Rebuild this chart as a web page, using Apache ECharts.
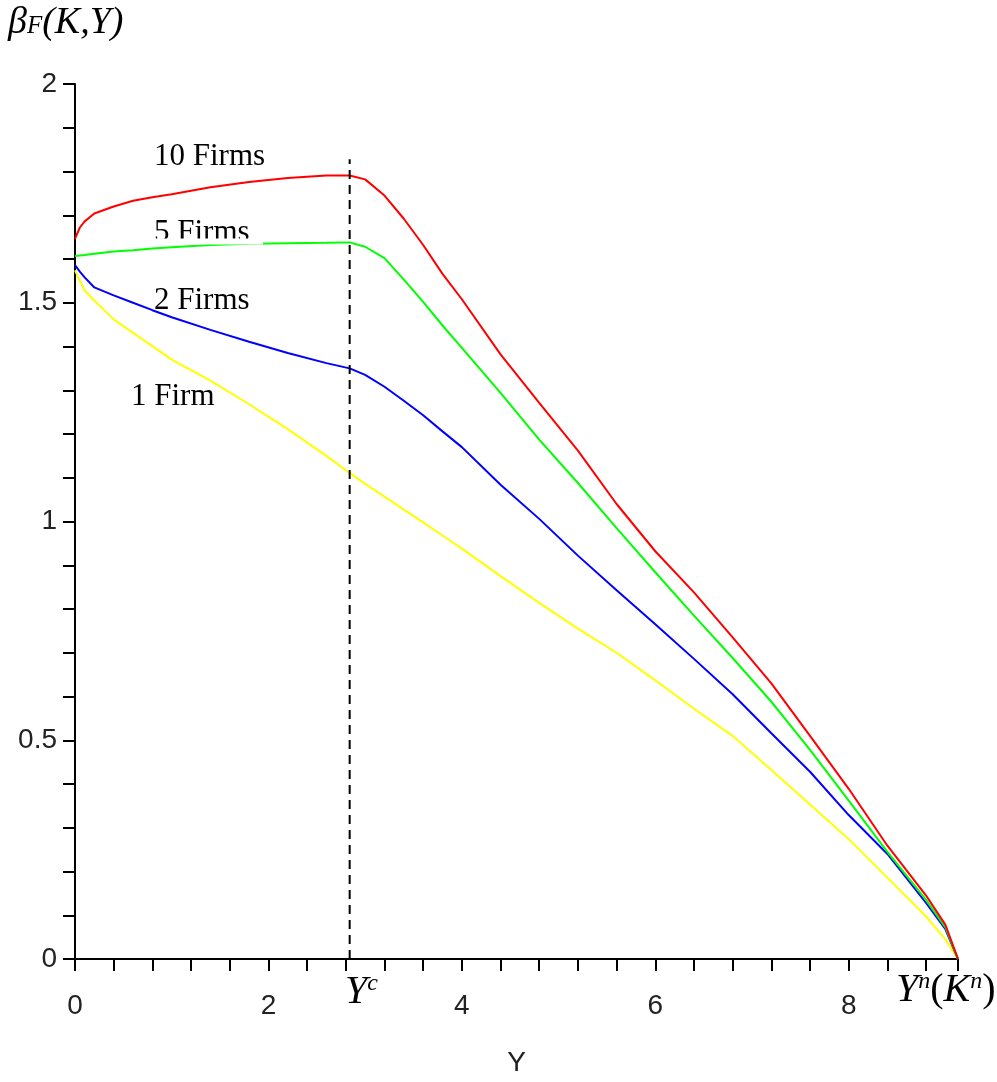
<!DOCTYPE html>
<html>
<head>
<meta charset="utf-8">
<script src="https://cdn.jsdelivr.net/npm/echarts@6/dist/echarts.min.js"></script>
<style>
  html, body { margin: 0; padding: 0; background: #fff; }
  #chartBox { width: 997px; height: 1082px; }
</style>
</head>
<body>
<div id="chartBox"></div>
<script>
// x grid (Y) shared by the four curves
var xs = [0, 0.05, 0.1, 0.2, 0.4, 0.6, 0.8, 1.0, 1.4, 1.8, 2.2, 2.6, 2.84, 3.0, 3.2, 3.4, 3.6, 3.8, 4.0,
          4.4, 4.8, 5.2, 5.6, 6.0, 6.4, 6.8, 7.2, 7.6, 8.0, 8.4, 8.8, 9.0, 9.13];

var firm1 = [1.574, 1.550, 1.528, 1.505, 1.462, 1.431, 1.401, 1.370, 1.322, 1.268, 1.211, 1.150, 1.111, 1.086, 1.057, 1.027, 0.998, 0.968, 0.938,
             0.875, 0.814, 0.755, 0.700, 0.637, 0.572, 0.510, 0.432, 0.353, 0.274, 0.186, 0.097, 0.045, 0];
var firm2 = [1.586, 1.571, 1.558, 1.535, 1.517, 1.500, 1.483, 1.467, 1.438, 1.411, 1.385, 1.362, 1.350, 1.335, 1.308, 1.276, 1.243, 1.206, 1.170,
             1.084, 1.006, 0.922, 0.843, 0.765, 0.686, 0.605, 0.516, 0.428, 0.329, 0.240, 0.128, 0.068, 0];
var firm5 = [1.607, 1.608, 1.609, 1.612, 1.617, 1.620, 1.624, 1.627, 1.632, 1.635, 1.636, 1.637, 1.638, 1.628, 1.602, 1.553, 1.502, 1.448, 1.397,
             1.294, 1.187, 1.088, 0.985, 0.884, 0.785, 0.688, 0.588, 0.478, 0.362, 0.245, 0.135, 0.072, 0];
var firm10 = [1.646, 1.672, 1.686, 1.704, 1.720, 1.733, 1.741, 1.748, 1.764, 1.776, 1.785, 1.791, 1.791, 1.782, 1.745, 1.692, 1.632, 1.566, 1.508,
              1.382, 1.271, 1.162, 1.040, 0.932, 0.838, 0.735, 0.630, 0.510, 0.389, 0.259, 0.145, 0.078, 0];

var seriesNames = ['1 Firm', '2 Firms', '5 Firms', '10 Firms'];
var seriesColors = ['#ffff00', '#0000ff', '#00ff00', '#ff0000'];

var yc = 2.84;        // Y^c, dashed line
var ycTop = 1.828;
var xMax = 9.13;      // Y^n(K^n)
var xLabels = [0, 2, 4, 6, 8];
var yLabels = [0, 0.5, 1, 1.5, 2];

function pairs(ys) {
    var out = [];
    for (var i = 0; i < xs.length; i++) out.push([xs[i], ys[i]]);
    return out;
}
function isLabel(list, v) {
    for (var i = 0; i < list.length; i++) {
        if (Math.abs(list[i] - v) < 1e-6) return true;
    }
    return false;
}

var serif = '"Liberation Serif", "DejaVu Serif", serif';
var sans = '"Liberation Sans", "DejaVu Sans", sans-serif';

var myChart = echarts.init(document.getElementById('chartBox'));

var lines = [firm1, firm2, firm5, firm10].map(function (ys, i) {
    return {
        name: seriesNames[i],
        type: 'line',
        data: pairs(ys),
        symbol: 'none',
        lineStyle: { color: seriesColors[i], width: 2 },
        z: 3 + i
    };
});
lines.push({
    name: 'Yc',
    type: 'line',
    data: [[yc, 0], [yc, ycTop]],
    symbol: 'none',
    lineStyle: { color: '#000', width: 2, type: [9, 6] },
    z: 10
});

function label(text, x, y) {
    return {
        type: 'text', left: x, top: y, z: 100,
        style: { text: text, font: '31px ' + serif, fill: '#000' }
    };
}

var option = {
    animation: false,
    backgroundColor: '#fff',
    grid: { left: 75, right: 39, top: 84, bottom: 116 },
    xAxis: {
        type: 'value', min: 0, max: xMax, interval: 0.4,
        splitLine: { show: false },
        axisLine: { lineStyle: { color: '#000', width: 2 } },
        axisTick: { length: 12, lineStyle: { color: '#000', width: 2 } },
        axisLabel: {
            margin: 33, fontSize: 28, fontFamily: sans, color: '#222', hideOverlap: false,
            formatter: function (v) { return isLabel(xLabels, v) ? String(Math.round(v)) : ''; }
        },
        name: 'Y', nameLocation: 'middle', nameGap: 90,
        nameTextStyle: { fontSize: 28, fontFamily: sans, color: '#222' }
    },
    yAxis: {
        type: 'value', min: 0, max: 2, interval: 0.1,
        splitLine: { show: false },
        axisLine: { lineStyle: { color: '#000', width: 2 } },
        axisTick: { length: 12, lineStyle: { color: '#000', width: 2 } },
        axisLabel: {
            margin: 18, fontSize: 28, fontFamily: sans, color: '#222', hideOverlap: false,
            formatter: function (v) { return isLabel(yLabels, v) ? String(Number(v.toFixed(1))) : ''; }
        }
    },
    graphic: [
        {
            type: 'text', left: 8, top: 4, z: 100,
            style: {
                text: '{b|β}{s|F}{b|(K,Y)}',
                rich: {
                    b: { fontSize: 38, fontStyle: 'italic', fontFamily: serif, padding: [0, 0, 6, 0] },
                    s: { fontSize: 25, fontStyle: 'italic', fontFamily: serif }
                }
            }
        },
        label('10 Firms', 154, 141),
        label('5 Firms', 154, 217),
        label('2 Firms', 154, 285),
        label('1 Firm', 131, 381),
        // white strip that cuts the bottom of the "5 Firms" label
        { type: 'rect', left: 148, top: 238.5, z: 101, shape: { width: 115, height: 6 }, style: { fill: '#fff' } },
        {
            type: 'text', left: 345, top: 972, z: 100,
            style: {
                text: '{b|Y}{p|c}',
                rich: {
                    b: { fontSize: 40, fontStyle: 'italic', fontFamily: serif },
                    p: { fontSize: 24, fontStyle: 'italic', fontFamily: serif, verticalAlign: 'top' }
                }
            }
        },
        {
            type: 'text', left: 896, top: 970, z: 100,
            style: {
                text: '{b|Y}{p|n}{r|(}{b|K}{p|n}{r|)}',
                rich: {
                    b: { fontSize: 40, fontStyle: 'italic', fontFamily: serif },
                    r: { fontSize: 40, fontFamily: serif },
                    p: { fontSize: 24, fontStyle: 'italic', fontFamily: serif, verticalAlign: 'top' }
                }
            }
        }
    ],
    series: lines
};
myChart.setOption(option);
</script>
</body>
</html>
